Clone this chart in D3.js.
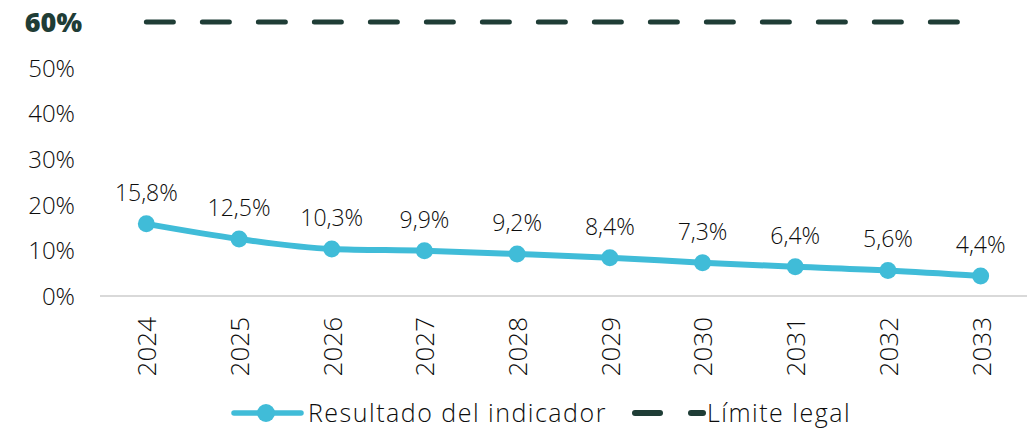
<!DOCTYPE html>
<html>
<head>
<meta charset="utf-8">
<script src="https://cdn.jsdelivr.net/npm/d3@7"></script>
<style>
  html, body { margin: 0; padding: 0; background: #fff; }
  svg { display: block; font-family: "Open Sans", Lato, sans-serif; font-weight: 300; }
</style>
</head>
<body>
<svg id="chart" width="1029" height="432"></svg>
<script>
// Indicator projection by year
const years = ["2024", "2025", "2026", "2027", "2028", "2029", "2030", "2031", "2032", "2033"];
const indicator = [15.8, 12.5, 10.3, 9.9, 9.2, 8.4, 7.3, 6.4, 5.6, 4.4];
const legalLimit = [60, 60, 60, 60, 60, 60, 60, 60, 60, 60];
const yTicks = [0, 10, 20, 30, 40, 50, 60];
const seriesNames = ["Resultado del indicador", "Límite legal"];

const lineColor = "#40bcd8";
const limitColor = "#1f3d36";
const textColor = "#0d0d0d";
const font = "'Open Sans', Lato, sans-serif";

const svg = d3.select("#chart");
const plot = { left: 100, right: 1027, top: 22, bottom: 296 };

const x = d3.scalePoint().domain(years).range([plot.left, plot.right]).padding(0.5);
const y = d3.scaleLinear().domain([0, 60]).range([plot.bottom, plot.top]);

const fmt = v => d3.format(".1f")(v).replace(".", ",") + "%";

// Baseline axis
svg.append("line")
  .attr("x1", plot.left).attr("x2", plot.right)
  .attr("y1", y(0)).attr("y2", y(0))
  .attr("stroke", "#d9d9d9").attr("stroke-width", 2);

// Y axis tick labels (no line)
const yAxis = d3.axisLeft(y).tickValues(yTicks).tickSize(0).tickPadding(0)
  .tickFormat(d => d + "%");
const gy = svg.append("g").attr("transform", "translate(75,0)").call(yAxis);
gy.select(".domain").remove();
gy.selectAll("text")
  .attr("font-family", font)
  .attr("font-weight", 300)
  .attr("font-size", 24)
  .attr("fill", textColor)
  .attr("dy", "0.36em");
gy.selectAll(".tick").filter(d => d === 60).select("text")
  .attr("font-size", 27)
  .attr("font-weight", 800)
  .attr("fill", limitColor)
  .attr("x", 7);

// X axis: rotated year labels
const xAxis = d3.axisBottom(x).tickSize(0).tickPadding(0);
const gx = svg.append("g").attr("transform", `translate(0,${plot.bottom})`).call(xAxis);
gx.select(".domain").remove();
gx.selectAll("text")
  .attr("font-family", font)
  .attr("font-weight", 300)
  .attr("font-size", 26)
  .attr("fill", textColor)
  .attr("transform", "rotate(-90)")
  .attr("text-anchor", "end")
  .attr("x", -21)
  .attr("y", 0)
  .attr("dy", "0.36em");

// Legal limit dashed line
const line = d3.line().x((d, i) => x(years[i])).y(d => y(d));
svg.append("path")
  .datum(legalLimit)
  .attr("d", line)
  .attr("fill", "none")
  .attr("stroke", limitColor)
  .attr("stroke-width", 5)
  .attr("stroke-linecap", "round")
  .attr("stroke-dasharray", "27 29");

// Indicator line
svg.append("path")
  .datum(indicator)
  .attr("d", d3.line().x((d, i) => x(years[i])).y(d => y(d)).curve(d3.curveMonotoneX))
  .attr("fill", "none")
  .attr("stroke", lineColor)
  .attr("stroke-width", 6)
  .attr("stroke-linejoin", "round");

svg.append("g").selectAll("circle")
  .data(indicator)
  .join("circle")
  .attr("cx", (d, i) => x(years[i]))
  .attr("cy", d => y(d))
  .attr("r", 8.5)
  .attr("fill", lineColor);

// Value labels
svg.append("g").selectAll("text")
  .data(indicator)
  .join("text")
  .attr("x", (d, i) => x(years[i]))
  .attr("y", d => y(d) - 23)
  .attr("text-anchor", "middle")
  .attr("font-size", 23)
  .attr("fill", textColor)
  .text(d => fmt(d));

// Legend
const lg = svg.append("g").attr("transform", "translate(0,413)");
lg.append("line").attr("x1", 234).attr("x2", 301).attr("y1", 0).attr("y2", 0)
  .attr("stroke", lineColor).attr("stroke-width", 5.5).attr("stroke-linecap", "round");
lg.append("circle").attr("cx", 266).attr("cy", 0).attr("r", 9).attr("fill", lineColor);
lg.append("text").attr("x", 308).attr("y", 0).attr("dy", "0.36em")
  .attr("font-size", 25).attr("letter-spacing", 1.5).attr("fill", textColor).text(seriesNames[0]);

lg.append("line").attr("x1", 635).attr("x2", 660).attr("y1", 0).attr("y2", 0)
  .attr("stroke", limitColor).attr("stroke-width", 6).attr("stroke-linecap", "round");
lg.append("line").attr("x1", 691).attr("x2", 703).attr("y1", 0).attr("y2", 0)
  .attr("stroke", limitColor).attr("stroke-width", 6).attr("stroke-linecap", "round");
lg.append("text").attr("x", 707).attr("y", 0).attr("dy", "0.36em")
  .attr("font-size", 25).attr("letter-spacing", 1.5).attr("fill", textColor).text(seriesNames[1]);
</script>
</body>
</html>
